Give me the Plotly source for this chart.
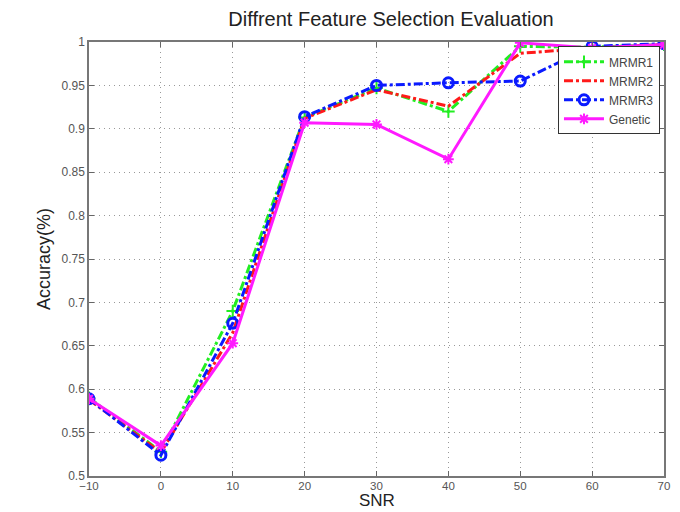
import plotly.graph_objects as go

snr = [-10, 0, 10, 20, 30, 40, 50, 60, 70]
mrmr1 = [0.590, 0.528, 0.690, 0.913, 0.947, 0.920, 0.995, 0.994, 0.997]
mrmr2 = [0.588, 0.527, 0.665, 0.912, 0.945, 0.926, 0.987, 0.993, 0.997]
mrmr3 = [0.589, 0.524, 0.676, 0.914, 0.950, 0.953, 0.955, 0.995, 0.998]
genetic = [0.589, 0.535, 0.653, 0.907, 0.905, 0.865, 0.999, 0.993, 0.997]

x_ticks = [-10, 0, 10, 20, 30, 40, 50, 60, 70]
x_labels = ["\u221210", "0", "10", "20", "30", "40", "50", "60", "70"]
y_ticks = [0.5, 0.55, 0.6, 0.65, 0.7, 0.75, 0.8, 0.85, 0.9, 0.95, 1]
y_labels = ["0.5", "0.55", "0.6", "0.65", "0.7", "0.75", "0.8", "0.85", "0.9", "0.95", "1"]

fig = go.Figure()
fig.add_trace(go.Scatter(x=snr, y=mrmr1, name="MRMR1", mode="lines+markers",
                         line=dict(color="#22ee22", width=3, dash="dashdot"),
                         marker=dict(symbol="cross-thin", size=9, line=dict(color="#22ee22", width=2))))
fig.add_trace(go.Scatter(x=snr, y=mrmr2, name="MRMR2", mode="lines",
                         line=dict(color="#ff1a1a", width=3, dash="dashdot")))
fig.add_trace(go.Scatter(x=snr, y=mrmr3, name="MRMR3", mode="lines+markers",
                         line=dict(color="#0a1aff", width=3, dash="dashdot"),
                         marker=dict(symbol="circle-open", size=10, line=dict(color="#0a1aff", width=3))))
fig.add_trace(go.Scatter(x=snr, y=genetic, name="Genetic", mode="lines+markers",
                         line=dict(color="#ff1aff", width=3),
                         marker=dict(symbol="asterisk-open", size=9, line=dict(color="#ff1aff", width=2))))

fig.update_layout(
    width=680, height=512,
    margin=dict(l=89, r=16, t=42, b=36, autoexpand=False),
    paper_bgcolor="white", plot_bgcolor="white",
    font=dict(family="Liberation Sans, Arial, sans-serif", color="#555555", size=12),
    title=dict(text="Diffrent Feature Selection Evaluation", x=0.575, xanchor="center",
               y=0.962, yanchor="middle", font=dict(size=20, color="#222222")),
    showlegend=True,
    legend=dict(x=0.993, y=0.99, xanchor="right", yanchor="top",
                bgcolor="white", bordercolor="#333333", borderwidth=1,
                font=dict(size=12, color="#444444"), tracegroupgap=0, itemwidth=40),
    annotations=[dict(text="SNR", xref="paper", yref="paper", x=0.5, y=-36 / 434,
                      xanchor="center", yanchor="bottom", showarrow=False,
                      font=dict(size=17, color="#222222"))],
)
fig.update_xaxes(range=[-10, 70], tickvals=x_ticks, ticktext=x_labels, ticks="inside", ticklen=5,
                 tickcolor="#666666", automargin=False, ticklabelstandoff=-2,
                 showline=True, linecolor="#777777", linewidth=1.5, mirror="ticks",
                 showgrid=True, gridcolor="#999999", griddash="1px,4px", gridwidth=1,
                 zeroline=False, tickfont=dict(size=11.5))
fig.update_yaxes(range=[0.5, 1], tickvals=y_ticks, ticktext=y_labels, ticks="inside", ticklen=5,
                 tickcolor="#666666", automargin=False,
                 showline=True, linecolor="#777777", linewidth=1.5, mirror="ticks",
                 showgrid=True, gridcolor="#999999", griddash="1px,4px", gridwidth=1,
                 zeroline=False, tickfont=dict(size=12),
                 title=dict(text="Accuracy(%)", font=dict(size=18, color="#222222"), standoff=6))

fig.write_html("out.html")
